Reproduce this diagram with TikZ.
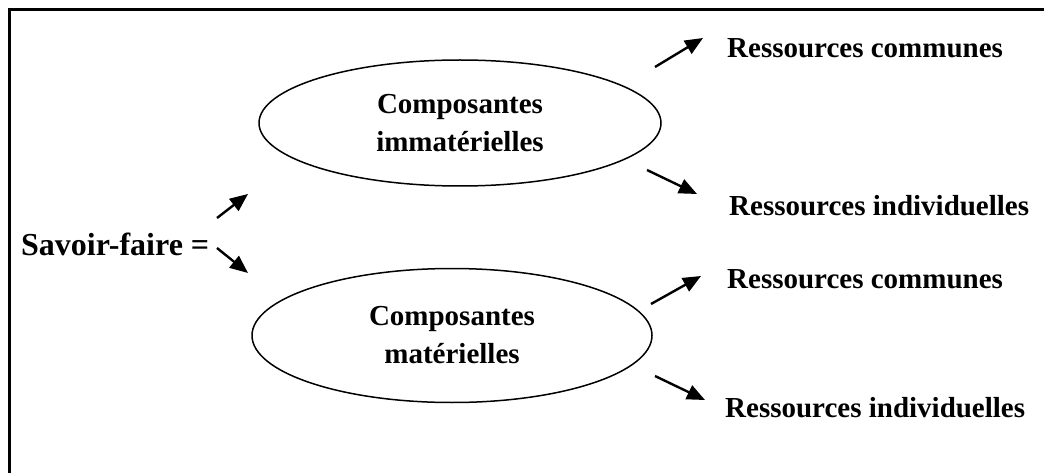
\documentclass[tikz,border=0pt]{standalone}
\usepackage{fontspec}
\setmainfont{Liberation Serif}
\usetikzlibrary{arrows.meta,shapes.geometric}
\begin{document}
\begin{tikzpicture}[x=1pt,y=-1pt,
  lbl/.style={font=\fontsize{29}{38}\selectfont\bfseries, inner sep=0pt},
  big/.style={font=\fontsize{32}{38}\selectfont\bfseries, inner sep=0pt},
  ell/.style={draw, line width=1.5pt, ellipse, inner sep=0pt, align=center,
    font=\fontsize{29}{38}\selectfont\bfseries},
  arr/.style={line width=2.4pt, -{Triangle[length=18pt,width=15pt]}}]
\useasboundingbox (0,0) rectangle (1044,473);
% frame (right and bottom sides fall outside the picture)
\draw[line width=3pt] (9,9.5) rectangle (1070,500);

% main label
\node[big, anchor=base west] (sf) at (21,255) {Savoir-faire =};

% ellipses
\node[ell, minimum width=402pt, minimum height=126pt] (imm) at (460,123)
  {Composantes\\immatérielles};
\node[ell, minimum width=400pt, minimum height=134pt] (mat) at (452,335.5)
  {Composantes\\matérielles};

% right labels
\node[lbl, anchor=base west] (rc1) at (727,58) {Ressources communes};
\node[lbl, anchor=base west] (ri1) at (729,215) {Ressources individuelles};
\node[lbl, anchor=base west] (rc2) at (727,288) {Ressources communes};
\node[lbl, anchor=base west] (ri2) at (725,417) {Ressources individuelles};

% arrow end points
\coordinate (a1s) at (217,218); \coordinate (a1e) at (248,194);
\coordinate (a2s) at (217,248); \coordinate (a2e) at (248,273);
\coordinate (b1s) at (655,67);  \coordinate (b1e) at (703,38);
\coordinate (b2s) at (647,170); \coordinate (b2e) at (697,194);
\coordinate (c1s) at (651,304); \coordinate (c1e) at (701,276);
\coordinate (c2s) at (655,376); \coordinate (c2e) at (705,400);

\draw[arr] (a1s) -- (a1e);
\draw[arr] (a2s) -- (a2e);
\draw[arr] (b1s) -- (b1e);
\draw[arr] (b2s) -- (b2e);
\draw[arr] (c1s) -- (c1e);
\draw[arr] (c2s) -- (c2e);
\end{tikzpicture}
\end{document}
